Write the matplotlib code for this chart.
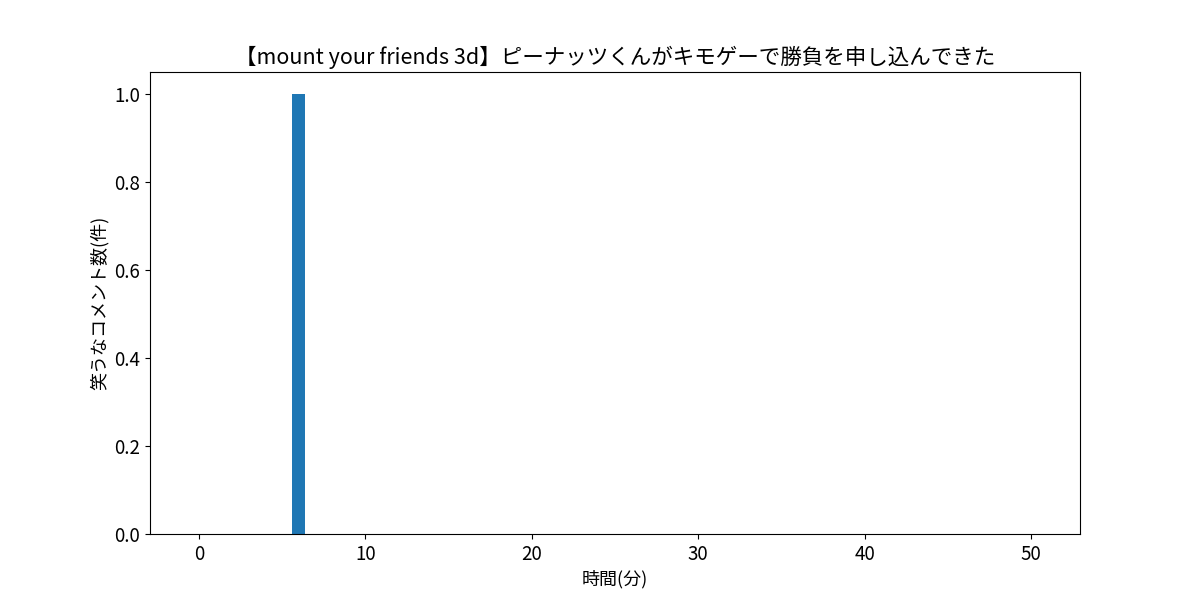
import numpy as np
import matplotlib.pyplot as plt

plt.rcParams['font.family'] = ['Noto Sans CJK JP', 'DejaVu Sans']

# DATA
minutes = list(range(0, 51))
counts = [0, 0, 0, 0, 0, 0, 1, 0, 0, 0,
          0, 0, 0, 0, 0, 0, 0, 0, 0, 0,
          0, 0, 0, 0, 0, 0, 0, 0, 0, 0,
          0, 0, 0, 0, 0, 0, 0, 0, 0, 0,
          0, 0, 0, 0, 0, 0, 0, 0, 0, 0,
          0]
title = "【mount your friends 3d】ピーナッツくんがキモゲーで勝負を申し込んできた"

fig, ax = plt.subplots(figsize=(12, 6), dpi=100)
ax.bar(minutes, counts, color="#1f77b4")
ax.set_title(title, fontsize=15.5)
ax.set_xlabel("時間(分)", fontsize=13)
ax.set_ylabel("笑うなコメント数(件)", fontsize=13)
ax.tick_params(labelsize=13.5)
fig.savefig("out.png")
